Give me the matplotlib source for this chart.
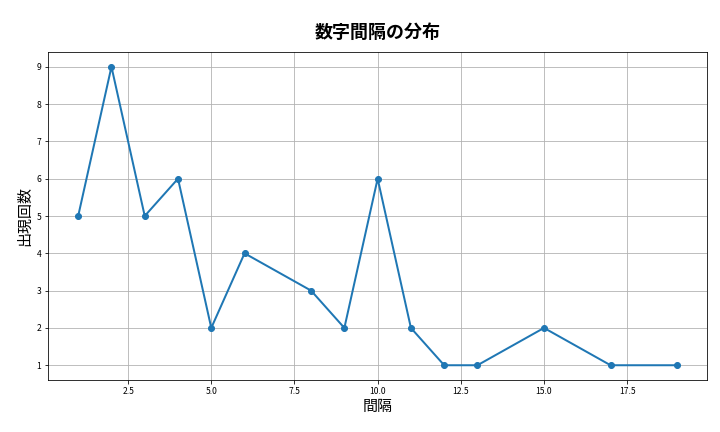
import matplotlib
matplotlib.use('Agg')
from matplotlib import pyplot as plt

plt.rcParams['font.family'] = ['Noto Sans CJK JP', 'DejaVu Sans']

intervals = [1, 2, 3, 4, 5, 6, 8, 9, 10, 11, 12, 13, 15, 17, 19]
counts = [5, 9, 5, 6, 2, 4, 3, 2, 6, 2, 1, 1, 2, 1, 1]


def main():
    fig, ax = plt.subplots(figsize=(10, 6), dpi=72)
    ax.plot(intervals, counts, marker='o', color='#1f77b4', linewidth=2, markersize=6)
    ax.set_title('数字間隔の分布', fontsize=18, fontweight='bold', pad=14)
    ax.set_xlabel('間隔', fontsize=15)
    ax.set_ylabel('出現回数', fontsize=15)
    ax.tick_params(labelsize=8.5)
    ax.grid(True, color='#b0b0b0', linewidth=0.8)
    fig.subplots_adjust(left=0.067, right=0.982, top=0.88, bottom=0.12)
    plt.savefig('out.png')
    plt.close()


if __name__ == '__main__':
    main()
